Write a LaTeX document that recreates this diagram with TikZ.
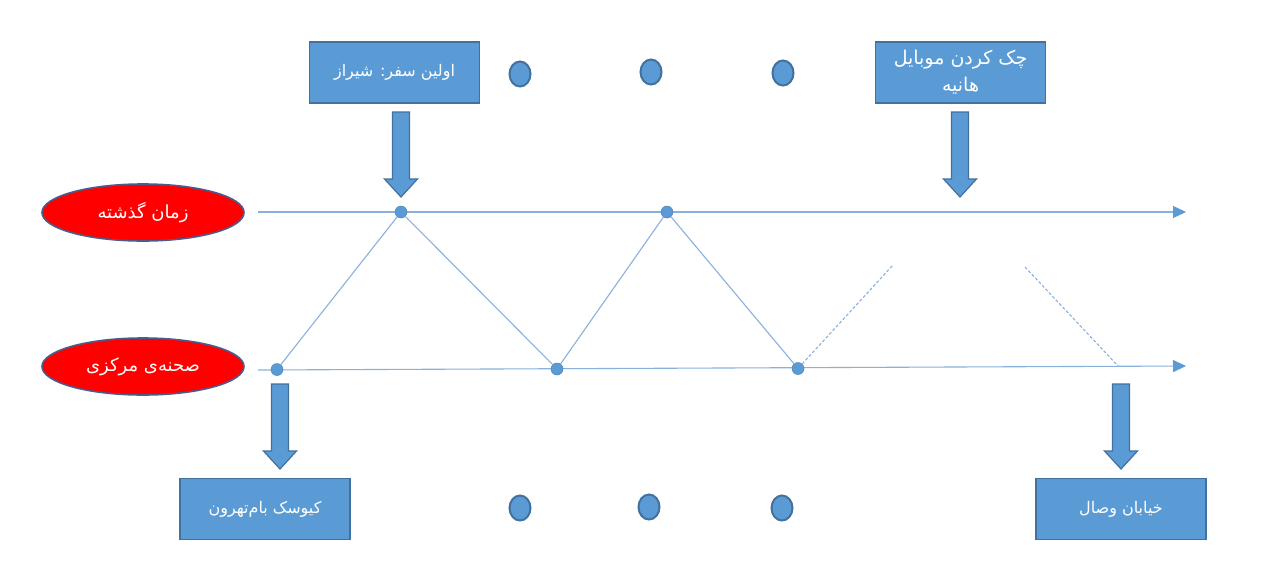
\documentclass[tikz,border=0pt]{standalone}
\usepackage{fontspec}
\usetikzlibrary{arrows.meta,shapes.geometric}
\newfontfamily\arabicfont[Script=Arabic]{DejaVu Sans}
\TeXXeTstate=1
\definecolor{boxblue}{HTML}{5B9BD5}
\definecolor{boxedge}{HTML}{41719C}
\definecolor{linecol}{HTML}{8AB0DD}
\definecolor{elledge}{HTML}{4A5C8C}
\tikzset{
  infobox/.style={draw=boxedge, line width=1.8pt, fill=boxblue, minimum width=170pt, minimum height=61pt, text=white, font=\arabicfont\fontsize{16}{20}\selectfont, align=center, inner sep=2pt},
  bigtext/.style={font=\arabicfont\fontsize{19}{27}\selectfont},
  redell/.style={ellipse, draw=elledge, line width=1.6pt, fill=red, minimum width=202pt, minimum height=57pt, text=white, font=\arabicfont\fontsize{18}{20}\selectfont, inner sep=0pt},
  tdot/.style={circle, fill=boxblue, draw=boxblue!85!black, line width=0.5pt, minimum size=12pt, inner sep=0pt},
  bigdot/.style={ellipse, fill=boxblue, draw=boxedge, line width=2pt, minimum width=21pt, minimum height=25pt, inner sep=0pt},
  timeline/.style={draw=linecol, line width=1.1pt, -{Triangle[length=13pt,width=12pt,fill=boxblue,color=boxblue]}},
  zig/.style={draw=linecol, line width=1.1pt},
  dashline/.style={draw=linecol, line width=1.1pt, dash pattern=on 3pt off 2pt},
  pics/downarrow/.style={code={
    \draw[draw=boxedge, line width=1.2pt, fill=boxblue]
      (-8.5,0) -- (8.5,0) -- (8.5,67) -- (16.5,67) -- (0,85) -- (-16.5,67) -- (-8.5,67) -- cycle;}}
}
\begin{document}
\begin{tikzpicture}[x=1pt,y=-1pt]
\useasboundingbox (0,0) rectangle (1280,579);
\fill[white] (0,0) rectangle (1280,579);

% boxes
\node[infobox] (b1) at (394.5,72.5) {\beginR اولین سفر: شیراز\endR};
\node[infobox, bigtext] (b2) at (960.5,72.5) {\beginR چک کردن موبایل\endR\\\beginR هانیه\endR};
\node[infobox] (b3) at (265,509) {\beginR کیوسک بام‌تهرون\endR};
\node[infobox] (b4) at (1121,509) {\beginR خیابان وصال\endR};

% ellipses
\node[redell] (e1) at (143,212.5) {\beginR زمان گذشته\endR};
\node[redell] (e2) at (143,366.5) {\beginR صحنه‌ی مرکزی\endR};

% big dots
\node[bigdot] (o1) at (520,74) {};
\node[bigdot] (o2) at (651,72) {};
\node[bigdot] (o3) at (783,73) {};
\node[bigdot] (o4) at (520,508) {};
\node[bigdot] (o5) at (649,507) {};
\node[bigdot] (o6) at (782,508) {};

% timelines
\coordinate (ts) at (258,212);
\coordinate (te) at (1186,212);
\coordinate (bs) at (258,370);
\coordinate (be) at (1186,366);
\path[timeline] (ts) -- (te);
\path[timeline] (bs) -- (be);

% dashed ends
\coordinate (d1) at (893,265);
\coordinate (d2) at (1025,267);
\coordinate (d3) at (1118,366);

% timeline dots
\node[tdot] (p1) at (277,369.5) {};
\node[tdot] (p2) at (401,212) {};
\node[tdot] (p3) at (557,369) {};
\node[tdot] (p4) at (667,212) {};
\node[tdot] (p5) at (798,368.5) {};

\path[zig] (p1) -- (p2) -- (p3) -- (p4) -- (p5);
\path[dashline] (p5) -- (d1);
\path[dashline] (d2) -- (d3);

% block arrows
\pic at (401,112) {downarrow};
\pic at (960,112) {downarrow};
\pic at (280,384) {downarrow};
\pic at (1121,384) {downarrow};
\end{tikzpicture}
\end{document}
